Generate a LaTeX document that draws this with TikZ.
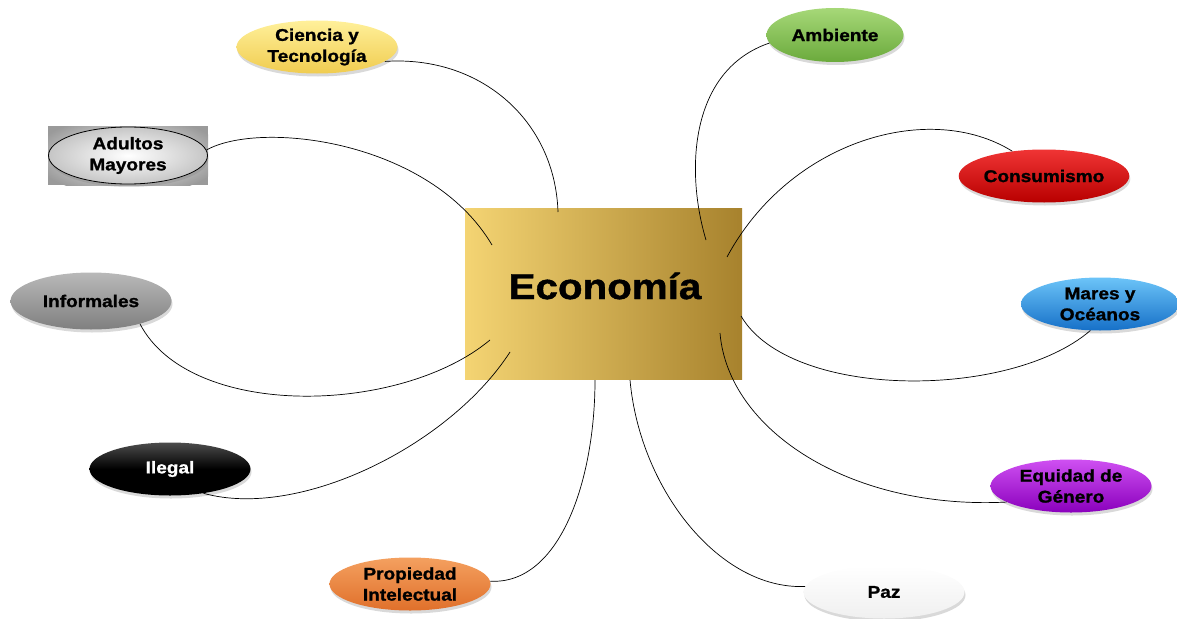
\documentclass[tikz,border=0pt]{standalone}
\usepackage{fontspec}
\setmainfont{Liberation Sans}[FakeStretch=1.12, BoldFeatures={FakeBold=1.2}]
\usetikzlibrary{shapes.geometric,shadows}
\definecolor{boxL}{HTML}{F4D473}
\definecolor{boxR}{HTML}{A7822D}
\definecolor{yelT}{HTML}{FFF09A}
\definecolor{yelB}{HTML}{F0CC50}
\definecolor{grnT}{HTML}{A6D878}
\definecolor{grnB}{HTML}{6BAA3C}
\definecolor{redT}{HTML}{F03434}
\definecolor{redB}{HTML}{B80000}
\definecolor{bluT}{HTML}{6CC4F8}
\definecolor{bluB}{HTML}{1670C8}
\definecolor{purT}{HTML}{CF50F2}
\definecolor{purB}{HTML}{8A00BC}
\definecolor{orgT}{HTML}{F4A060}
\definecolor{orgB}{HTML}{E0702A}
\definecolor{gryT}{HTML}{B8B8B8}
\definecolor{gryB}{HTML}{808080}
\definecolor{bgGray}{HTML}{9A9A9A}
\tikzset{
  bubble/.style={ellipse, minimum width=161pt, minimum height=53pt, inner sep=0pt,
    align=center, font=\fontsize{17}{21}\selectfont\bfseries,
    drop shadow={opacity=0.3, shadow xshift=1pt, shadow yshift=-3pt}},
  link/.style={draw=black, line width=0.7pt},
  ecobox/.style={rectangle, minimum width=277pt, minimum height=171pt, inner sep=0pt,
    left color=boxL, right color=boxR}
}
\begin{document}
\begin{tikzpicture}[x=1pt,y=-1pt]
\useasboundingbox (0,0) rectangle (1177,618);
% central box
\node[ecobox] (eco) at (603.5,293.5) {};
\node[font=\fontsize{36}{40}\selectfont\bfseries, inner sep=0pt] (ecot) at (605,286) {Economía};
% Adultos Mayores background
\begin{scope}
\clip (48,126) rectangle (208,185);
\fill[bgGray] (48,126) rectangle (208,185);
\shade[inner color=white, outer color=bgGray] (128,155.5) ellipse [x radius=95pt, y radius=40pt];
\end{scope}
% bubbles
\node[bubble, top color=yelT, bottom color=yelB] (cien) at (317,47) {Ciencia y\\Tecnología};
\node[bubble, minimum width=159pt, minimum height=57pt, draw=black, line width=0.8pt,
  inner color=white, outer color=gray!45, drop shadow={opacity=0}] (adul) at (128,155.5) {Adultos\\Mayores};
\node[bubble, minimum height=57pt, top color=gryT, bottom color=gryB] (info) at (91,301) {Informales};
\node[bubble, top color=gray!60!black, bottom color=black, middle color=black, font=\fontsize{17}{21}\selectfont\bfseries\color{white}] (ileg) at (170,469) {Ilegal};
\node[bubble, top color=orgT, bottom color=orgB] (prop) at (410,584) {Propiedad\\Intelectual};
\node[bubble, top color=white, bottom color=gray!12] (paz) at (884,592) {Paz};
\node[bubble, top color=purT, bottom color=purB] (equi) at (1071,486) {Equidad de\\Género};
\node[bubble, minimum width=158pt, top color=bluT, bottom color=bluB] (mare) at (1100,304) {Mares y\\Océanos};
\node[bubble, top color=redT, bottom color=redB] (cons) at (1044,176) {Consumismo};
\node[bubble, minimum width=137pt, minimum height=54pt, top color=grnT, bottom color=grnB] (ambi) at (835,35) {Ambiente};
% connector ends inside the central box
\coordinate (eC) at (558,212);
\coordinate (eAd) at (492,245);
\coordinate (eIn) at (490,340);
\coordinate (eIl) at (510,352);
\coordinate (eP) at (595,380);
\coordinate (ePz) at (630,380);
\coordinate (eE) at (720,333);
\coordinate (eM) at (741,316);
\coordinate (eCo) at (727,257);
\coordinate (eAm) at (706,240);
% connectors
\draw[link] (cien.-12) .. controls (480,55) and (555,120) .. (eC);
\draw[link] (adul.4) .. controls (260,120) and (430,140) .. (eAd);
\draw[link] (info.-25) .. controls (190,420) and (400,415) .. (eIn);
\draw[link] (ileg.-36) .. controls (300,520) and (450,445) .. (eIl);
\draw[link] (prop.2) .. controls (560,585) and (595,480) .. (eP);
\draw[link] (paz.176) .. controls (720,590) and (640,490) .. (ePz);
\draw[link] (equi.194) .. controls (850,510) and (728,430) .. (eE);
\draw[link] (mare.250) .. controls (1010,400) and (790,400) .. (eM);
\draw[link] (cons.142) .. controls (930,100) and (790,140) .. (eCo);
\draw[link] (ambi.187) .. controls (690,70) and (685,170) .. (eAm);
\end{tikzpicture}
\end{document}
